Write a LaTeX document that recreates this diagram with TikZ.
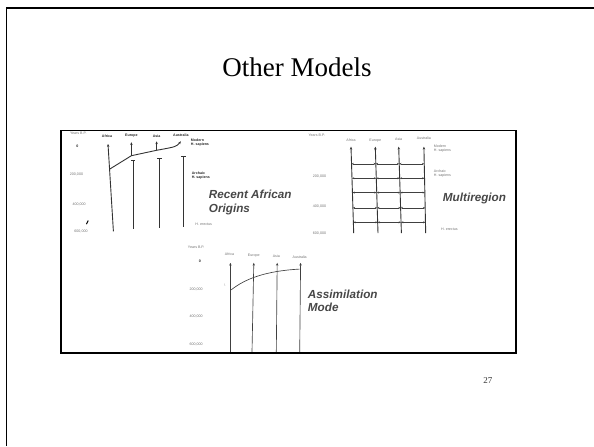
\documentclass[tikz,border=0pt]{standalone}
\usepackage{fontspec}
\setmainfont{Liberation Serif}
\setsansfont{Liberation Sans}
\usetikzlibrary{arrows.meta,calc}

\begin{document}
\begin{tikzpicture}[x=1pt,y=-1pt,scale=.9,every node/.append style={transform shape},
                        tiny/.style={font=\sffamily\fontsize{4}{4.4}\selectfont,color=black!55,inner sep=0pt,align=left},
                        tinybold/.style={font=\sffamily\bfseries\fontsize{4}{4.4}\selectfont,color=black!85,inner sep=0pt,align=left},
                        model/.style={font=\sffamily\bfseries\itshape\fontsize{13}{15}\selectfont,color=black!72,anchor=west,inner sep=0pt,align=left},
                        lineage/.style={line width=0.9pt,color=black!80},
                        thinline/.style={line width=0.65pt,color=black!75},
                        flow/.style={line width=0.55pt,color=black!75,{Stealth[length=2.3pt,width=1.9pt]}-{Stealth[length=2.3pt,width=1.9pt]}},
                        up/.style={-{Stealth[length=2.8pt,width=2.4pt]}},
                        tbar/.style={{Bar[width=4.5pt]}-}]
                        \useasboundingbox (0,0) rectangle (660,495.6);
                        % slide and photo frame
                        \draw[line width=1.5pt] (7,495.6) -- (7,9) -- (660,9);
                        \draw[line width=1.6pt] (68,145) rectangle (573,392);
                        \node[font=\fontsize{30}{32}\selectfont] (title) at (330,75) {Other Models};
                        \node[font=\fontsize{10}{12}\selectfont,color=black!80] (page) at (542,423) {27};
                        % recent african origins
                        \node[tiny] (raoyears) at (87,148) {Years B.P.};
                        \node[tinybold] (rao0) at (86,163) {0};
                        \node[tiny] (rao200) at (85,194) {200,000};
                        \node[tiny] (rao400) at (88,227) {400,000};
                        \node[tiny] (rao600) at (90,257) {600,000};
                        \draw[line width=1pt] (96,249) -- (98,245);
                        \node[tinybold] (raoafrica) at (119,151) {Africa};
                        \node[tinybold] (raoeurope) at (146,151) {Europe};
                        \node[tinybold] (raoasia) at (174,151) {Asia};
                        \node[tinybold] (raoaustralia) at (201,150) {Australia};
                        \node[tinybold,anchor=west] (raomodern) at (212,158) {Modern\\H. sapiens};
                        \node[tinybold,anchor=west] (raoarchaic) at (213,195) {Archaic\\H. sapiens};
                        \node[tiny,anchor=west] (raoerectus) at (217,249) {H. erectus};
                        \coordinate (afTop) at (120,160);
                        \coordinate (afBot) at (126,257);
                        \coordinate (fork) at (121.7,188);
                        \coordinate (euFork) at (146,173);
                        \coordinate (euTop) at (146,158);
                        \coordinate (asFork) at (174,167);
                        \coordinate (asTop) at (174,157);
                        \coordinate (auTop) at (201,157);
                        \draw[lineage,up] (afBot) -- (afTop);
                        \draw[lineage,up] (fork) -- (euFork) -- (asFork) .. controls (196,163) .. (auTop);
                        \draw[lineage,up] (euFork) -- (euTop);
                        \draw[lineage,up] (asFork) -- (asTop);
                        \coordinate (euT) at (148,178);
                        \coordinate (euEnd) at (148,255);
                        \coordinate (asT) at (177,176);
                        \coordinate (asEnd) at (177,253);
                        \coordinate (auT) at (204,173);
                        \coordinate (auEnd) at (204,252);
                        \draw[lineage,tbar] (euT) -- (euEnd);
                        \draw[lineage,tbar] (asT) -- (asEnd);
                        \draw[lineage,tbar] (auT) -- (auEnd);
                        \node[model] (rao) at (232,225) {Recent African\\Origins};
                        % multiregion
                        \node[tiny] (mryears) at (352,150) {Years B.P.};
                        \node[tiny] (mr200) at (355,196) {200,000};
                        \node[tiny] (mr400) at (355,229) {400,000};
                        \node[tiny] (mr600) at (355,259) {600,000};
                        \node[tiny] (mrafrica) at (390,156) {Africa};
                        \node[tiny] (mreurope) at (417,156) {Europe};
                        \node[tiny] (mrasia) at (443,155) {Asia};
                        \node[tiny] (mraustralia) at (471,154) {Australia};
                        \node[tiny,anchor=west] (mrmodern) at (482,165) {Modern\\H. sapiens};
                        \node[tiny,anchor=west] (mrarchaic) at (482,193) {Archaic\\H. sapiens};
                        \node[tiny,anchor=west] (mrerectus) at (490,255) {H. erectus};
                        \foreach \n/\xt/\xb in {1/390/393,2/417/420,3/443/446,4/471/473} {
                            \coordinate (mt\n) at (\xt,163);
                            \coordinate (mb\n) at (\xb,259);
                            \draw[lineage,up] (mb\n) -- (mt\n);
                        }
                        \foreach \f in {0.198,0.365,0.531,0.708,0.875}
                            \foreach \a/\b in {1/2,2/3,3/4}
                                \draw[flow] ($(mt\a)!\f!(mb\a)$) -- ($(mt\b)!\f!(mb\b)$);
                        \node[model] (mr) at (492,220) {Multiregion};
                        % assimilation
                        \node[tiny] (asyears) at (218,275) {Years B.P.};
                        \node[tinybold] (as0) at (222,290) {0};
                        \node[tiny] (as200) at (218,322) {200,000};
                        \node[tiny] (as400) at (218,352) {400,000};
                        \node[tiny] (as600) at (218,383) {600,000};
                        \node[tiny] (asafrica) at (255,283) {Africa};
                        \node[tiny] (aseurope) at (282,284) {Europe};
                        \node[tiny] (asasia) at (307,285) {Asia};
                        \node[tiny] (asaustralia) at (333,286) {Australia};
                        \node[tiny,color=black!30] (asmark) at (250,317) {f.};
                        \foreach \n/\xt/\xb in {1/256/256,2/282/280,3/308/307,4/334/333} {
                            \coordinate (at\n) at (\xt,292);
                            \coordinate (ab\n) at (\xb,391);
                            \draw[thinline,up] (ab\n) -- (at\n);
                        }
                        \coordinate (amStart) at (257,322);
                        \coordinate (amEnd) at (333,299);
                        \draw[thinline] (amStart) .. controls (272,310) and (295,301) .. (amEnd);
                        \node[model] (am) at (342,334) {Assimilation\\Mode};
                \end{tikzpicture}
\end{document}
